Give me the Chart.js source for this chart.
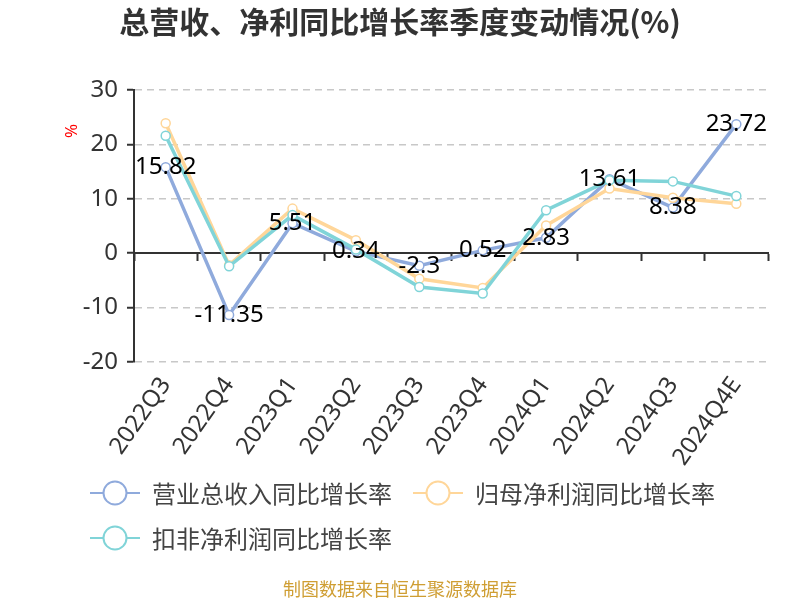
<!DOCTYPE html>
<html>
<head>
<meta charset="utf-8">
<script src="https://cdn.jsdelivr.net/npm/chart.js@4.4.1/dist/chart.umd.min.js"></script>
<style>
  html, body { margin: 0; padding: 0; background: #fff; }
  #wrap { width: 800px; height: 600px; }
</style>
</head>
<body>
<div id="wrap"><canvas id="myChart" width="800" height="600"></canvas></div>
<script>
// 季度
const categories = ['2022Q3', '2022Q4', '2023Q1', '2023Q2', '2023Q3', '2023Q4', '2024Q1', '2024Q2', '2024Q3', '2024Q4E'];
// 营业总收入同比增长率
const revenueGrowth = [15.82, -11.35, 5.51, 0.34, -2.3, 0.52, 2.83, 13.61, 8.38, 23.72];
// 归母净利润同比增长率
const netProfitGrowth = [23.9, -2.2, 8.2, 2.4, -4.7, -6.4, 5.1, 11.9, 10.2, 9.1];
// 扣非净利润同比增长率
const deductedProfitGrowth = [21.6, -2.4, 7.0, 0.7, -6.2, -7.4, 7.9, 13.4, 13.2, 10.5];
const yTicks = [-20, -10, 0, 10, 20, 30];

const FONT = '"Noto Sans", "Noto Sans CJK SC", sans-serif';
const CJK = '"Noto Sans CJK SC", "Noto Sans", sans-serif';

// 标题、单位、图例、数据标签、来源
const decorPlugin = {
    id: 'decor',
    afterDatasetsDraw(chart) {
        const ctx = chart.ctx;
        const meta = chart.getDatasetMeta(0);
        ctx.save();
        ctx.font = '24px ' + FONT;
        ctx.fillStyle = '#000';
        ctx.textAlign = 'center';
        ctx.textBaseline = 'middle';
        meta.data.forEach((pt, i) => {
            ctx.fillText(String(chart.data.datasets[0].data[i]), pt.x, pt.y);
        });
        ctx.restore();
    },
    afterDraw(chart) {
        const ctx = chart.ctx;
        ctx.save();
        // 标题
        ctx.font = 'bold 30px ' + CJK;
        ctx.fillStyle = '#333';
        ctx.textAlign = 'center';
        ctx.textBaseline = 'middle';
        ctx.fillText('总营收、净利同比增长率季度变动情况(%)', 400, 22);

        // 单位
        ctx.save();
        ctx.translate(72, 131);
        ctx.rotate(-Math.PI / 2);
        ctx.font = '17px ' + FONT;
        ctx.fillStyle = '#f00';
        ctx.fillText('%', 0, 0);
        ctx.restore();

        // 图例
        ctx.font = '24px ' + CJK;
        ctx.textAlign = 'left';
        let x = 90, y = 493;
        chart.data.datasets.forEach(ds => {
            const w = 50 + 12 + ctx.measureText(ds.label).width;
            if (x + w > 775) { x = 90; y += 45; }
            ctx.strokeStyle = ds.borderColor;
            ctx.lineWidth = 2;
            ctx.beginPath();
            ctx.moveTo(x, y);
            ctx.lineTo(x + 50, y);
            ctx.stroke();
            ctx.beginPath();
            ctx.arc(x + 25, y, 11.5, 0, Math.PI * 2);
            ctx.fillStyle = '#fff';
            ctx.fill();
            ctx.stroke();
            ctx.fillStyle = '#444';
            ctx.fillText(ds.label, x + 62, y + 1);
            x += w + 21;
        });

        // 来源
        ctx.font = '18px ' + CJK;
        ctx.fillStyle = '#CF9E33';
        ctx.textAlign = 'center';
        ctx.fillText('制图数据来自恒生聚源数据库', 400, 589);
        ctx.restore();
    }
};

const ctx = document.getElementById('myChart').getContext('2d');

function lineSet(label, data, color, order) {
    return {
        label: label,
        data: data,
        borderColor: color,
        backgroundColor: color,
        borderWidth: 3.5,
        pointRadius: 4.5,
        pointHoverRadius: 4.5,
        pointBackgroundColor: '#fff',
        pointBorderColor: color,
        pointBorderWidth: 1.5,
        tension: 0,
        order: order,
        clip: false
    };
}

const config = {
    type: 'line',
    data: {
        labels: categories,
        datasets: [
            lineSet('营业总收入同比增长率', revenueGrowth, '#8FAADC', 3),
            lineSet('归母净利润同比增长率', netProfitGrowth, '#FFD699', 2),
            lineSet('扣非净利润同比增长率', deductedProfitGrowth, '#80D4D8', 1)
        ]
    },
    options: {
        responsive: false,
        animation: false,
        layout: { padding: { top: 90, right: 32, bottom: 128, left: 0 } },
        plugins: {
            legend: { display: false },
            title: { display: false },
            tooltip: { enabled: false }
        },
        scales: {
            x: {
                type: 'category',
                offset: true,
                grid: { display: false, offset: true },
                border: { display: false },
                ticks: {
                    autoSkip: false,
                    maxRotation: 55,
                    minRotation: 55,
                    padding: 2,
                    color: '#333',
                    font: { size: 24, family: FONT }
                },
                afterFit(scale) { scale.height = 110; }
            },
            xZero: {
                type: 'category',
                position: { y: 0 },
                offset: true,
                grid: {
                    offset: true,
                    drawOnChartArea: false,
                    drawTicks: true,
                    tickLength: 7,
                    tickColor: '#333',
                    tickWidth: 2,
                    tickBorderDash: []
                },
                border: { display: true, color: '#333', width: 2 },
                ticks: { display: false }
            },
            y: {
                min: -20,
                max: 30,
                afterBuildTicks(scale) {
                    scale.ticks = yTicks.map(v => ({ value: v }));
                },
                grid: {
                    color: '#c8c8c8',
                    lineWidth: 1.5,
                    tickLength: 7,
                    tickColor: '#333',
                    tickWidth: 2,
                    tickBorderDash: []
                },
                border: { display: true, color: '#333', width: 2, dash: [7, 5] },
                ticks: {
                    padding: 9,
                    color: '#333',
                    font: { size: 24, family: FONT }
                },
                afterFit(scale) { scale.width = 134; }
            }
        }
    },
    plugins: [decorPlugin]
};

const myChart = new Chart(ctx, config);
</script>
</body>
</html>
